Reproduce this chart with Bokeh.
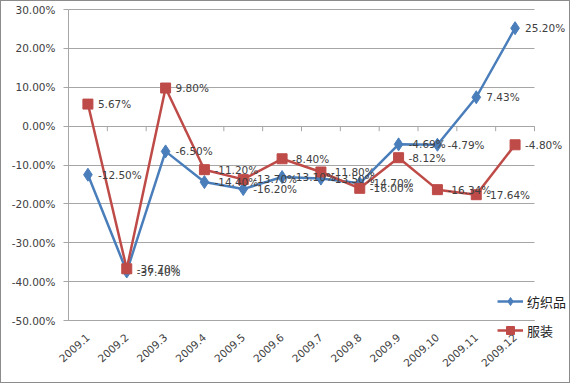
import math
from bokeh.plotting import figure
from bokeh.models import (Range1d, FixedTicker, PrintfTickFormatter, Legend, LegendItem)
from bokeh.core.properties import value
from bokeh.embed import file_html
from bokeh.resources import INLINE

categories = ["2009.1", "2009.2", "2009.3", "2009.4", "2009.5", "2009.6",
              "2009.7", "2009.8", "2009.9", "2009.10", "2009.11", "2009.12"]
textiles = [-12.50, -37.40, -6.50, -14.40, -16.20, -13.10,
            -13.50, -14.70, -4.69, -4.79, 7.43, 25.20]
apparel = [5.67, -36.70, 9.80, -11.20, -13.70, -8.40,
           -11.80, -16.00, -8.12, -16.34, -17.64, -4.80]
y_ticks = [-50, -40, -30, -20, -10, 0, 10, 20, 30]
series_names = ["纺织品", "服装"]

BLUE = "#4A7EBB"
RED = "#BE4B48"
GRID = "#A6A6A6"
TXT = "#404040"
FONT = "DejaVu Sans"
FS = "10.5px"

n = len(categories)
xs = list(range(1, n + 1))

# layout (pixels): the frame covers the whole figure, axes sit at fixed places
W, H = 570, 383
PLOT_L, PLOT_T = 67, 8     # top-left of the value/category area
PLOT_W, PLOT_H = 466, 311  # its size
y_lo, y_hi = min(y_ticks), max(y_ticks)
ux = PLOT_W / n                    # px per category
uy = PLOT_H / (y_hi - y_lo)        # px per percent
x_start = 0.5 - PLOT_L / ux
x_end = 0.5 + (W - PLOT_L) / ux
y_top = y_hi + PLOT_T / uy
y_bot = y_lo - (H - PLOT_T - PLOT_H) / uy

p = figure(width=W, height=H, output_backend="svg", toolbar_location=None,
           x_range=Range1d(x_start, x_end), y_range=Range1d(y_bot, y_top),
           min_border_left=0, min_border_right=0, min_border_top=0,
           min_border_bottom=0)
p.styles = {"border": "1px solid #8c8c8c"}
p.outline_line_color = None
p.background_fill_color = "white"
p.border_fill_color = "white"

# value axis
p.yaxis.ticker = FixedTicker(ticks=y_ticks)
p.yaxis.fixed_location = 0.5
p.yaxis.bounds = (y_lo, y_hi)
p.yaxis.formatter = PrintfTickFormatter(format="%.2f%%")
p.yaxis.axis_line_color = GRID
p.yaxis.major_tick_line_color = GRID
p.yaxis.major_tick_out = 5
p.yaxis.major_tick_in = 0
p.yaxis.minor_tick_line_color = None
p.yaxis.major_label_text_font = FONT
p.yaxis.major_label_text_font_size = FS
p.yaxis.major_label_text_color = TXT
p.yaxis.major_label_standoff = 8

# category axis
p.xaxis.ticker = FixedTicker(ticks=xs)
p.xaxis.fixed_location = y_lo
p.xaxis.bounds = (0.5, n + 0.5)
p.xaxis.major_label_overrides = {x: c for x, c in zip(xs, categories)}
p.xaxis.major_label_orientation = math.radians(42)
p.xaxis.axis_line_color = GRID
p.xaxis.major_tick_line_color = None
p.xaxis.major_tick_out = 0
p.xaxis.major_tick_in = 0
p.xaxis.minor_tick_line_color = None
p.xaxis.major_label_text_font = FONT
p.xaxis.major_label_text_font_size = FS
p.xaxis.major_label_text_color = TXT
p.xaxis.major_label_standoff = 15

p.xgrid.grid_line_color = None
p.ygrid.grid_line_color = GRID
p.ygrid.ticker = FixedTicker(ticks=y_ticks)
p.ygrid.cross_bounds = (0.5, n + 0.5)

# category tick marks on the zero line
bounds = [i + 0.5 for i in range(n + 1)]
p.segment(x0=bounds, y0=[0] * len(bounds), x1=bounds, y1=[-1.3] * len(bounds),
          line_color=GRID, line_width=1)

# series
bl = p.line(xs, textiles, line_color=BLUE, line_width=2.5)
bm = p.scatter(xs, textiles, marker="diamond", size=13, fill_color=BLUE, line_color=BLUE)
rl = p.line(xs, apparel, line_color=RED, line_width=2.5)
rm = p.scatter(xs, apparel, marker="square", size=10, fill_color=RED, line_color=RED)

for vals in (textiles, apparel):
    p.text(xs, vals, text=[f"{v:.2f}%" for v in vals], x_offset=10,
           text_baseline="middle", text_align="left",
           text_font=value(FONT), text_font_size=FS, text_color=TXT)

legend = Legend(items=[LegendItem(label=series_names[0], renderers=[bl, bm]),
                       LegendItem(label=series_names[1], renderers=[rl, rm])],
                location=(496, 44), orientation="vertical",
                label_text_font="Noto Sans CJK SC", label_text_font_size="13px",
                label_text_color="#222222",
                glyph_width=26, glyph_height=20, label_standoff=4, spacing=9,
                padding=0, margin=0, border_line_color=None, background_fill_alpha=0)
p.add_layout(legend)

open("out.html", "w").write(file_html(p, INLINE))
